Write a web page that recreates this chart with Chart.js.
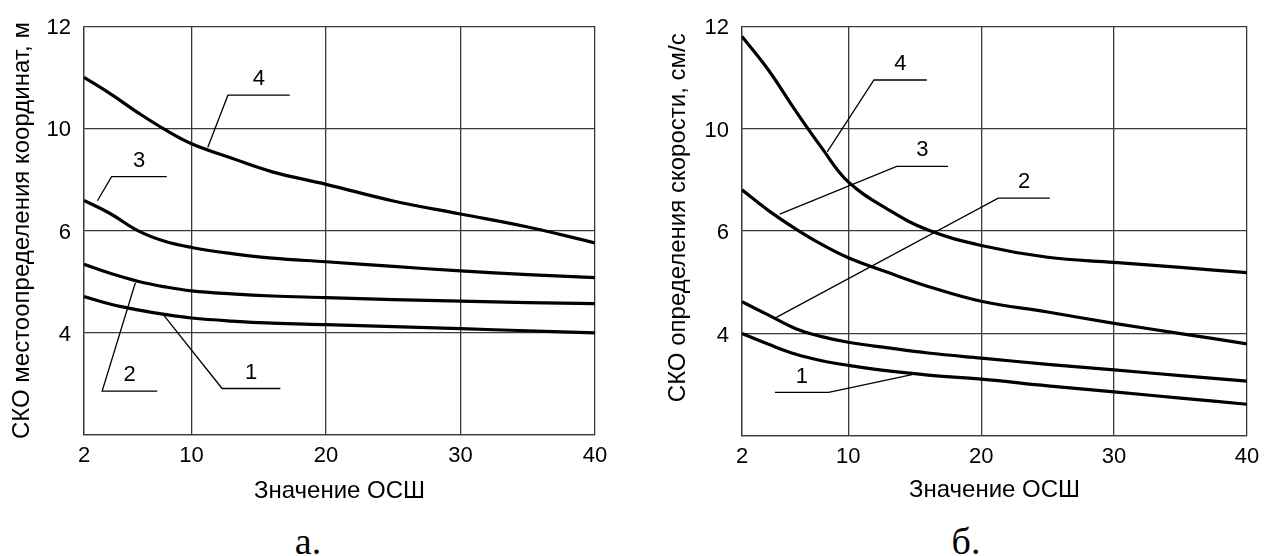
<!DOCTYPE html>
<html>
<head>
<meta charset="utf-8">
<script src="https://cdn.jsdelivr.net/npm/chart.js@4/dist/chart.umd.min.js"></script>
<style>
  body { margin: 0; background: #fff; width: 1268px; height: 556px; position: relative; overflow: hidden; }
  .box { position: absolute; top: 0; width: 634px; height: 520px; }
  .cap { position: absolute; top: 522px; width: 100px; text-align: center; font: 38px/38px 'Liberation Serif', 'Times New Roman', serif; color: #000; }
</style>
</head>
<body>
<div class="box" style="left:0"><canvas id="chartA"></canvas></div>
<div class="box" style="left:634px"><canvas id="chartB"></canvas></div>
<div class="cap" style="left:258px">а.</div>
<div class="cap" style="left:916px">б.</div>
<script>
// ОСШ values (x) and tick marks
const snr = [2, 4, 6, 8, 10, 13, 16, 20, 25, 30, 35, 40];
const xTicks = [2, 10, 20, 30, 40];

// y grid is not uniform in the original: equal steps labelled 4, 6, 10, 12
const yTickValues = [2, 4, 6, 10, 12];
const yTickLabels = ['', '4', '6', '10', '12'];

// а. СКО местоопределения координат, м
const coord1 = [4.71, 4.56, 4.45, 4.36, 4.29, 4.23, 4.19, 4.16, 4.12, 4.08, 4.04, 4.0];
const coord2 = [5.34, 5.16, 5.01, 4.90, 4.82, 4.76, 4.72, 4.69, 4.65, 4.62, 4.59, 4.57];
const coord3 = [7.18, 6.65, 6.0, 5.79, 5.67, 5.55, 5.46, 5.39, 5.30, 5.21, 5.14, 5.08];
const coord4 = [11.0, 10.67, 10.31, 9.96, 9.40, 8.83, 8.30, 7.81, 7.16, 6.65, 6.14, 5.76];

// б. СКО определения скорости, см/с
const speed1 = [4.0, 3.79, 3.6, 3.47, 3.38, 3.27, 3.19, 3.11, 2.98, 2.86, 2.74, 2.62];
const speed2 = [4.62, 4.36, 4.1, 3.94, 3.83, 3.72, 3.62, 3.52, 3.40, 3.29, 3.18, 3.07];
const speed3 = [7.61, 6.8, 6.1, 5.74, 5.48, 5.19, 4.92, 4.63, 4.42, 4.20, 4.0, 3.80];
const speed4 = [11.8, 11.14, 10.36, 9.25, 7.92, 6.84, 6.04, 5.72, 5.49, 5.39, 5.29, 5.19];

// curve number callouts: tip on the curve, elbow, end of the shelf (data units)
const coordNotes = [
  { text: '4', tip: [11.2, 9.25], elbow: [12.7, 10.65], end: 17.3 },
  { text: '3', tip: [3.0, 7.17], elbow: [4.05, 8.11], end: 8.16 },
  { text: '2', tip: [5.82, 4.98], elbow: [3.35, 2.86], end: 7.45 },
  { text: '1', tip: [7.88, 4.36], elbow: [12.27, 2.91], end: 16.6 }
];
const speedNotes = [
  { text: '4', tip: [8.41, 9.09], elbow: [11.93, 10.95], end: 15.9 },
  { text: '3', tip: [4.84, 6.66], elbow: [13.64, 8.53], end: 17.5 },
  { text: '2', tip: [4.48, 4.30], elbow: [21.28, 7.29], end: 25.16 },
  { text: '1', tip: [14.8, 3.20], elbow: [8.52, 2.85], end: 4.48 }
];

// value -> position on the uneven y grid
function toPos(v) {
  const t = yTickValues;
  let i = 0;
  while (i < t.length - 2 && v > t[i + 1]) i++;
  return i + (v - t[i]) / (t[i + 1] - t[i]);
}

const FONT = "'Liberation Sans', Arial, sans-serif";
const GRID = '#3a3a3a';

const leaderPlugin = {
  id: 'leaders',
  afterDatasetsDraw(chart, args, opts) {
    const ctx = chart.ctx;
    const xs = chart.scales.x, ys = chart.scales.y;
    ctx.save();
    ctx.strokeStyle = '#000';
    ctx.fillStyle = '#000';
    ctx.lineWidth = 1.3;
    ctx.font = '22px ' + FONT;
    ctx.textAlign = 'center';
    ctx.textBaseline = 'middle';
    opts.notes.forEach(n => {
      const tx = xs.getPixelForValue(n.tip[0]), ty = ys.getPixelForValue(toPos(n.tip[1]));
      const ex = xs.getPixelForValue(n.elbow[0]), ey = ys.getPixelForValue(toPos(n.elbow[1]));
      const fx = xs.getPixelForValue(n.end);
      ctx.beginPath();
      ctx.moveTo(tx, ty);
      ctx.lineTo(ex, ey);
      ctx.lineTo(fx, ey);
      ctx.stroke();
      ctx.fillText(n.text, (ex + fx) / 2, ey - 16);
    });
    ctx.restore();
  }
};

function makeChart(id, series, notes, yTitle, box) {
  const datasets = series.map(vals => ({
    data: snr.map((x, i) => ({ x: x, y: toPos(vals[i]) })),
    borderColor: '#000',
    borderWidth: 3.2,
    pointRadius: 0,
    tension: 0.4,
    fill: false
  }));
  return new Chart(document.getElementById(id), {
    type: 'line',
    data: { datasets: datasets },
    plugins: [leaderPlugin],
    options: {
      responsive: true,
      maintainAspectRatio: false,
      animation: false,
      layout: { padding: box.padding },
      plugins: {
        legend: { display: false },
        tooltip: { enabled: false },
        leaders: { notes: notes }
      },
      scales: {
        x: {
          type: 'linear',
          min: 2,
          max: 40,
          afterBuildTicks: axis => { axis.ticks = xTicks.map(v => ({ value: v })); },
          afterFit: scale => { scale.height = box.xHeight; },
          grid: { color: GRID, lineWidth: 1.3, drawTicks: false },
          border: { color: GRID, width: 1.3 },
          ticks: { color: '#000', font: { family: FONT, size: 22 }, padding: 8, maxRotation: 0 },
          title: { display: true, text: 'Значение ОСШ', color: '#000', font: { family: FONT, size: 24 }, padding: { top: 0, bottom: box.xTitlePad } }
        },
        y: {
          type: 'linear',
          min: 0,
          max: 4,
          afterBuildTicks: axis => { axis.ticks = yTickLabels.map((_, i) => ({ value: i })); },
          afterFit: scale => { scale.width = box.yWidth; },
          grid: { color: GRID, lineWidth: 1.3, drawTicks: false },
          border: { color: GRID, width: 1.3 },
          ticks: { color: '#000', font: { family: FONT, size: 22 }, padding: 13, labelOffset: 2, callback: v => yTickLabels[v] },
          title: { display: true, text: yTitle, color: '#000', font: { family: FONT, size: 24 }, padding: { top: box.yTitlePad, bottom: 0 } }
        }
      }
    }
  });
}

makeChart('chartA', [coord1, coord2, coord3, coord4], coordNotes, 'СКО местоопределения координат, м',
  { padding: { left: 0, right: 39, top: 20, bottom: 0 }, xHeight: 85, yWidth: 84, yTitlePad: 8, xTitlePad: 14 });
// leading no-break spaces lift this title a little, as in the original
makeChart('chartB', [speed1, speed2, speed3, speed4], speedNotes, '\u00a0\u00a0\u00a0\u00a0СКО определения скорости, см/с',
  { padding: { left: 0, right: 21, top: 25, bottom: 0 }, xHeight: 84, yWidth: 108, yTitlePad: 30, xTitlePad: 15 });
</script>
</body>
</html>
